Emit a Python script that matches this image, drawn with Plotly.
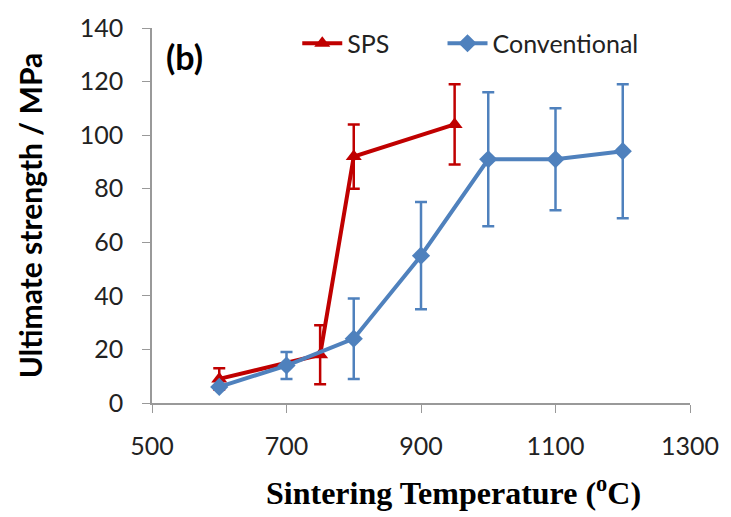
import plotly.graph_objects as go

# Sintering temperature (°C) and ultimate strength (MPa) with error bars
sps_temp = [600, 750, 800, 950]
sps_strength = [9, 18, 92, 104]
sps_err = [4, 11, 12, 15]

conv_temp = [600, 700, 800, 900, 1000, 1100, 1200]
conv_strength = [6, 14, 24, 55, 91, 91, 94]
conv_err = [0, 5, 15, 20, 25, 19, 25]

x_ticks = [500, 700, 900, 1100, 1300]
y_ticks = [0, 20, 40, 60, 80, 100, 120, 140]

RED = "#C00000"
BLUE = "#4F81BD"
TICK_FONT = dict(family="Lato, Open Sans, sans-serif", size=25, color="#222222")

fig = go.Figure()

fig.add_trace(go.Scatter(
    x=sps_temp, y=sps_strength, name="SPS", mode="lines+markers",
    line=dict(color=RED, width=4),
    marker=dict(symbol="triangle-up", size=14, color=RED),
    error_y=dict(type="data", array=sps_err, visible=True,
                 color=RED, thickness=2.5, width=6),
    legend="legend",
))

fig.add_trace(go.Scatter(
    x=conv_temp, y=conv_strength, name="Conventional", mode="lines+markers",
    line=dict(color=BLUE, width=4),
    marker=dict(symbol="diamond", size=14, color=BLUE),
    error_y=dict(type="data", array=conv_err, visible=True,
                 color=BLUE, thickness=2.5, width=6),
    legend="legend2",
))

# panel label
fig.add_annotation(
    x=0.022, y=0.925, xref="paper", yref="paper", text="<b>(b)</b>",
    showarrow=False, xanchor="left", yanchor="middle",
    font=dict(family="Lato, sans-serif", size=34, color="#000000"),
)

# x-axis title
fig.add_annotation(
    x=0.56, y=-0.235, xref="paper", yref="paper",
    text="<b>Sintering Temperature (<sup>o</sup>C)</b>",
    showarrow=False, xanchor="center", yanchor="middle",
    font=dict(family="Liberation Serif, serif", size=32, color="#000000"),
)

legend_style = dict(
    orientation="h", yanchor="top", y=1.02, xanchor="left",
    font=TICK_FONT, bgcolor="rgba(0,0,0,0)", itemwidth=40,
)

fig.update_layout(
    width=731, height=517,
    margin=dict(l=152, r=34, t=24, b=114),
    plot_bgcolor="white", paper_bgcolor="white",
    showlegend=True,
    legend=dict(x=0.27, **legend_style),
    legend2=dict(x=0.54, **legend_style),
    xaxis=dict(
        range=[500, 1300], tickvals=x_ticks, showgrid=False, zeroline=False,
        showline=True, linecolor="#999999", linewidth=1.5,
        ticks="outside", tickcolor="#999999", ticklen=8,
        tickfont=TICK_FONT, ticklabelstandoff=12,
    ),
    yaxis=dict(
        range=[0, 140], tickvals=y_ticks, showgrid=False, zeroline=False,
        showline=True, linecolor="#999999", linewidth=1.5,
        ticks="outside", tickcolor="#999999", ticklen=8,
        tickfont=TICK_FONT, ticklabelstandoff=14,
        title=dict(text="<b>Ultimate strength / MPa</b>",
                   font=dict(family="Lato, sans-serif", size=30, color="#000000"),
                   standoff=28),
    ),
)

fig.write_html("out.html")
